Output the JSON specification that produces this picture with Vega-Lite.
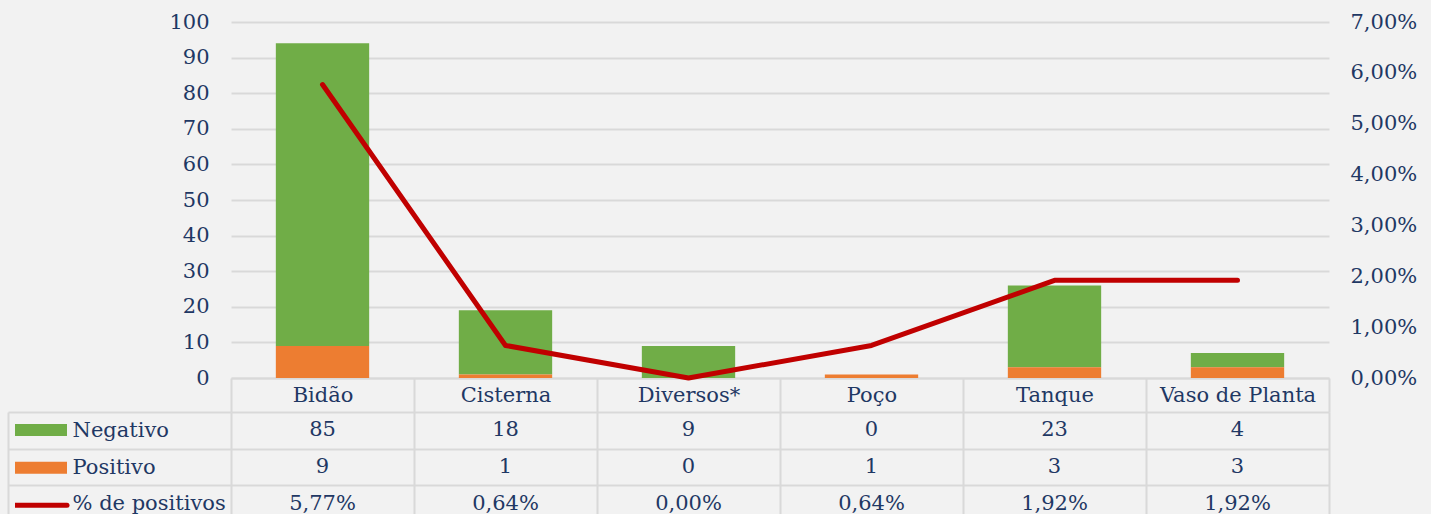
{
  "$schema": "https://vega.github.io/schema/vega-lite/v6.json",
  "background": "#F2F2F2",
  "padding": {"left": 7, "top": 11, "right": 20, "bottom": 0},
  "spacing": 34,
  "bounds": "flush",
  "config": {
    "view": {"stroke": null},
    "font": "DejaVu Serif",
    "locale": {"number": {"decimal": ",", "thousands": ".", "grouping": [3], "currency": ["R$", ""]}},
    "axis": {"labelFont": "DejaVu Serif", "labelFontSize": 21, "labelColor": "#1F3864", "title": null}
  },
  "data": {"values": [
    {"local": "Bidão", "Negativo": 85, "Positivo": 9, "pct": 0.0577},
    {"local": "Cisterna", "Negativo": 18, "Positivo": 1, "pct": 0.0064},
    {"local": "Diversos*", "Negativo": 9, "Positivo": 0, "pct": 0.0},
    {"local": "Poço", "Negativo": 0, "Positivo": 1, "pct": 0.0064},
    {"local": "Tanque", "Negativo": 23, "Positivo": 3, "pct": 0.0192},
    {"local": "Vaso de Planta", "Negativo": 4, "Positivo": 3, "pct": 0.0192}
  ]},
  "vconcat": [
    {
      "width": 1098,
      "height": 356,
      "layer": [
        {
          "transform": [{"fold": ["Negativo", "Positivo"], "as": ["serie", "n"]}],
          "mark": {"type": "bar", "width": {"band": 0.51}},
          "encoding": {
            "x": {
              "field": "local", "type": "nominal", "sort": null,
              "scale": {"paddingInner": 0, "paddingOuter": 0},
              "axis": {
                "orient": "bottom", "labelAngle": 0, "domain": true, "domainColor": "#D9D9D9", "domainWidth": 2,
                "ticks": true, "tickBand": "extent", "tickSize": 34, "tickColor": "#D9D9D9", "tickWidth": 2,
                "labelBaseline": "middle", "labelPadding": -17, "grid": false
              }
            },
            "y": {
              "field": "n", "type": "quantitative", "stack": "zero",
              "scale": {"domain": [0, 100]},
              "axis": {
                "values": [0, 10, 20, 30, 40, 50, 60, 70, 80, 90, 100],
                "grid": true, "gridColor": "#D9D9D9", "gridWidth": 2,
                "ticks": false, "domain": false, "labelPadding": 22
              }
            },
            "color": {
              "field": "serie", "type": "nominal",
              "scale": {"domain": ["Negativo", "Positivo", "% de positivos"], "range": ["#70AD47", "#ED7D31", "#C00000"]},
              "legend": {
                "title": null, "orient": "none", "legendX": -216, "legendY": 398, "direction": "vertical",
                "labelFont": "DejaVu Serif", "labelFontSize": 21, "labelColor": "#1F3864", "labelOpacity": 0,
                "symbolSize": 2704, "labelOffset": 5, "rowPadding": 16.67, "clipHeight": 20, "padding": 0,
                "symbolType": "M-1,-0.23H1V0.23H-1Z", "symbolStrokeWidth": 0, "symbolOpacity": 1,
                "encode": {"symbols": {"update": {
                  "shape": {"signal": "datum.value === '% de positivos' ? 'stroke' : 'M-1,-0.23H1V0.23H-1Z'"},
                  "stroke": {"signal": "scale('color', datum.value)"},
                  "strokeWidth": {"signal": "(datum.value === '% de positivos' ? 5 : 0)"},
                  "strokeCap": {"value": "round"}
                }}}
              }
            },
            "order": {"field": "serie", "sort": "descending"}
          }
        },
        {
          "mark": {"type": "line", "strokeWidth": 5, "strokeCap": "round", "strokeJoin": "round"},
          "encoding": {
            "x": {"field": "local", "type": "nominal", "sort": null},
            "y": {
              "field": "pct", "type": "quantitative",
              "scale": {"domain": [0, 0.07]},
              "axis": {
                "orient": "right", "format": ".2%",
                "values": [0, 0.01, 0.02, 0.03, 0.04, 0.05, 0.06, 0.07],
                "grid": false, "ticks": false, "domain": false, "labelPadding": 21
              }
            },
            "color": {"datum": "% de positivos"}
          }
        }
      ],
      "resolve": {"scale": {"y": "independent"}}
    },
    {
      "width": 1098,
      "height": 110,
      "layer": [
        {
          "transform": [{"fold": ["Negativo", "Positivo"], "as": ["serie", "n"]}],
          "mark": {"type": "text", "font": "DejaVu Serif", "fontSize": 21, "color": "#1F3864", "baseline": "middle"},
          "encoding": {
            "x": {
              "field": "local", "type": "nominal", "sort": null,
              "scale": {"paddingInner": 0, "paddingOuter": 0},
              "axis": {
                "orient": "top", "grid": true, "tickBand": "extent", "gridColor": "#D9D9D9", "gridWidth": 2,
                "labels": false, "ticks": false, "domain": false
              }
            },
            "y": {
              "field": "serie", "type": "nominal",
              "scale": {"domain": ["Negativo", "Positivo", "% de positivos"], "paddingInner": 0, "paddingOuter": 0},
              "axis": {
                "orient": "left", "grid": true, "tickBand": "extent", "gridColor": "#D9D9D9", "gridWidth": 2,
                "ticks": true, "tickSize": 223, "tickColor": "#D9D9D9", "tickWidth": 2,
                "labels": true, "labelAlign": "left", "labelPadding": -64, "labelBaseline": "middle", "domain": false
              }
            },
            "text": {"field": "n", "type": "quantitative"}
          }
        },
        {
          "mark": {"type": "text", "font": "DejaVu Serif", "fontSize": 21, "color": "#1F3864", "baseline": "middle"},
          "encoding": {
            "x": {"field": "local", "type": "nominal", "sort": null},
            "y": {
              "datum": "% de positivos", "type": "nominal",
              "axis": {
                "orient": "left", "offset": 223, "domain": true, "domainColor": "#D9D9D9", "domainWidth": 2,
                "ticks": false, "labels": false, "grid": false
              }
            },
            "text": {"field": "pct", "type": "quantitative", "format": ".2%"}
          }
        }
      ],
      "resolve": {"axis": {"y": "independent"}}
    }
  ]
}
